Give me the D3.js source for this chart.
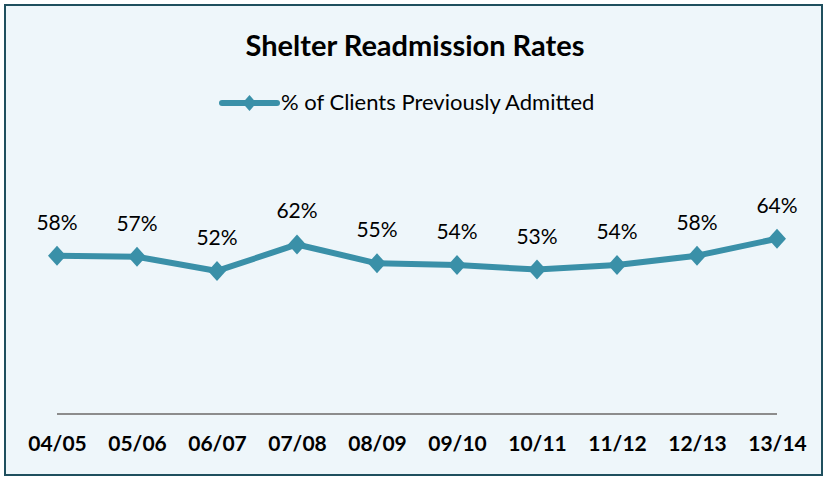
<!DOCTYPE html>
<html>
<head>
<meta charset="utf-8">
<script src="https://cdn.jsdelivr.net/npm/d3@7/dist/d3.min.js"></script>
<style>
  html, body { margin: 0; padding: 0; background: #ffffff; }
  svg { display: block; }
</style>
</head>
<body>
<svg id="chart" width="824" height="478"></svg>
<script>
const categories = ["04/05", "05/06", "06/07", "07/08", "08/09", "09/10", "10/11", "11/12", "12/13", "13/14"];
const values = [58.0, 57.6, 52.4, 62.1, 55.2, 54.6, 52.9, 54.6, 58.0, 64.2];
const valueLabels = ["58%", "57%", "52%", "62%", "55%", "54%", "53%", "54%", "58%", "64%"];
const seriesName = "% of Clients Previously Admitted";
const title = "Shelter Readmission Rates";

const svg = d3.select("#chart");
const lineColor = "#3A90A8";
const font = "Lato, 'Open Sans', sans-serif";

// frame
svg.append("rect").attr("x", 5).attr("y", 5).attr("width", 817).attr("height", 470)
  .attr("fill", "#EEF6FA").attr("stroke", "#1F4F5E").attr("stroke-width", 2);

// title
svg.append("text").attr("x", 415).attr("y", 56).attr("text-anchor", "middle")
  .attr("font-family", font).attr("font-weight", "bold").attr("font-size", 29)
  .attr("fill", "#000").text(title);

// legend
const lg = svg.append("g");
lg.append("line").attr("x1", 222).attr("x2", 277).attr("y1", 103).attr("y2", 103)
  .attr("stroke", lineColor).attr("stroke-width", 6).attr("stroke-linecap", "round");
lg.append("path").attr("d", "M249.5,95 L256.5,103 L249.5,111 L242.5,103 Z").attr("fill", lineColor);
lg.append("text").attr("x", 281).attr("y", 110).attr("font-family", font).attr("font-size", 22)
  .attr("fill", "#000").text(seriesName);

// scales
const x = d3.scalePoint().domain(categories).range([57, 777]);
const y = d3.scaleLinear().domain([0, 100]).range([414, 141]);

// x axis
const xAxis = d3.axisBottom(x).tickSize(0).tickPadding(0);
const ax = svg.append("g").attr("transform", "translate(0,414)").call(xAxis);
ax.select(".domain").attr("d", "M57,0H777").attr("stroke", "#8C8C8C").attr("stroke-width", 2);
ax.selectAll(".tick text").attr("font-family", font).attr("font-weight", "bold")
  .attr("font-size", 21).attr("fill", "#000").attr("dy", null).attr("y", 37);

// line
const line = d3.line().x((d, i) => x(categories[i])).y(d => y(d));
svg.append("path").datum(values).attr("d", line).attr("fill", "none")
  .attr("stroke", lineColor).attr("stroke-width", 6).attr("stroke-linejoin", "round");

// markers
svg.selectAll("path.marker").data(values).enter().append("path").attr("class", "marker")
  .attr("transform", (d, i) => `translate(${x(categories[i])},${y(d)})`)
  .attr("d", "M0,-10 L9,0 L0,10 L-9,0 Z").attr("fill", lineColor);

// data labels
svg.selectAll("text.dl").data(values).enter().append("text").attr("class", "dl")
  .attr("x", (d, i) => x(categories[i])).attr("y", d => y(d) - 26)
  .attr("text-anchor", "middle").attr("font-family", font).attr("font-size", 21)
  .attr("fill", "#000").text((d, i) => valueLabels[i]);
</script>
</body>
</html>
